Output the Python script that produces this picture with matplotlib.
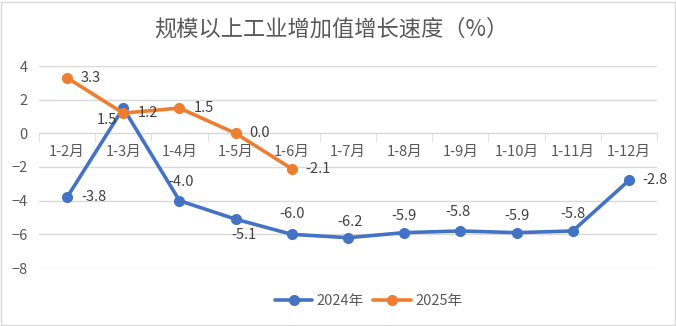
import matplotlib
matplotlib.use('Agg')
from matplotlib import pyplot as plt
from matplotlib.patches import Rectangle
from matplotlib.ticker import FixedLocator

plt.rcParams['font.family'] = ['Noto Sans CJK SC', 'DejaVu Sans']

months = ['1-2月', '1-3月', '1-4月', '1-5月', '1-6月', '1-7月',
          '1-8月', '1-9月', '1-10月', '1-11月', '1-12月']
vals_2024 = [-3.8, 1.5, -4.0, -5.1, -6.0, -6.2, -5.9, -5.8, -5.9, -5.8, -2.8]
vals_2025 = [3.3, 1.2, 1.5, 0.0, -2.1]
y_ticks = [-8, -6, -4, -2, 0, 2, 4]

# label offsets in pixels (dx, dy, ha, va)
pos_2024 = [(14, 0, 'left', 'center'), (-6, -12, 'right', 'center'),
            (2, 19, 'center', 'center'), (8, -16, 'center', 'center'),
            (0, 20, 'center', 'center'), (2, 16, 'center', 'center'),
            (0, 17, 'center', 'center'), (-2, 19, 'center', 'center'),
            (0, 17, 'center', 'center'), (0, 17, 'center', 'center'),
            (13, 0, 'left', 'center')]
pos_2025 = [(14, 0, 'left', 'center')] * 5

blue = '#4472C4'
orange = '#ED7D31'
txt = '#595959'
grid = '#D9D9D9'

fig = plt.figure(figsize=(6.76, 3.26), dpi=100)
ax = fig.add_axes([39 / 676, 58 / 326, 618 / 676, 202 / 326])

x = list(range(len(months)))
ax.plot(x, vals_2024, color=blue, lw=2.6, marker='o', ms=7, label='2024年',
        solid_capstyle='round', zorder=3)
ax.plot(x[:len(vals_2025)], vals_2025, color=orange, lw=2.6, marker='o', ms=7,
        label='2025年', solid_capstyle='round', zorder=4)

for i, v in enumerate(vals_2024):
    dx, dy, ha, va = pos_2024[i]
    ax.annotate(f'{v:.1f}', (i, v), xytext=(dx, dy), textcoords='offset pixels',
                ha=ha, va=va, fontsize=10.5, color='#404040', zorder=5)
for i, v in enumerate(vals_2025):
    dx, dy, ha, va = pos_2025[i]
    ax.annotate(f'{v:.1f}', (i, v), xytext=(dx, dy), textcoords='offset pixels',
                ha=ha, va=va, fontsize=10.5, color='#404040', zorder=5)

ax.set_xlim(-0.5, len(months) - 0.5)
ax.set_ylim(-8, 4)
ax.set_yticks(y_ticks)
ax.yaxis.grid(True, color=grid, lw=1)
ax.set_axisbelow(True)
for s in ['top', 'right', 'left']:
    ax.spines[s].set_visible(False)
ax.spines['bottom'].set_position(('data', 0))
ax.spines['bottom'].set_color(grid)
ax.tick_params(axis='y', length=0, labelsize=10.5, labelcolor=txt, pad=8)
ax.set_xticks(x)
ax.set_xticklabels(months)
ax.tick_params(axis='x', which='major', length=0, labelsize=10.5, labelcolor=txt, pad=8)
ax.xaxis.set_minor_locator(FixedLocator([i - 0.5 for i in range(len(months) + 1)]))
ax.tick_params(axis='x', which='minor', length=6, color=grid, direction='out')

fig.text(0.49, 0.912, '规模以上工业增加值增长速度（%）', ha='center', va='center',
         fontsize=16, color=txt)

fig.legend(loc='center', bbox_to_anchor=(0.545, 0.077), ncol=2, frameon=False,
           fontsize=10.5, labelcolor=txt, handlelength=2.6, columnspacing=0.6,
           handletextpad=0.3)

fig.patches.append(Rectangle((0.002, 0.004), 0.996, 0.99, transform=fig.transFigure,
                             fill=False, edgecolor=grid, lw=1))

fig.savefig('out.png', dpi=100)
